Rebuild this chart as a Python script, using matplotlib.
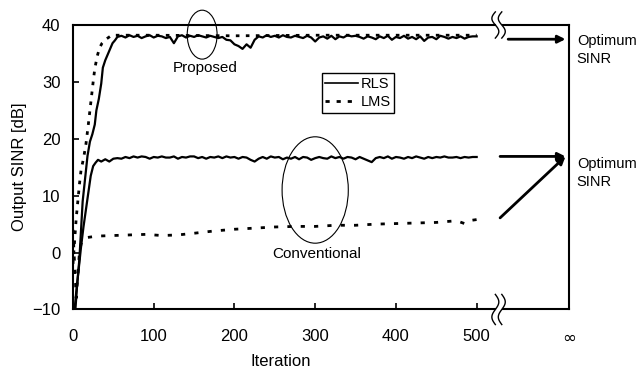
import numpy as np
import matplotlib
matplotlib.use("Agg")
import matplotlib.pyplot as plt
from matplotlib.patches import Ellipse
from matplotlib.lines import Line2D

plt.rcParams["font.family"] = ["Liberation Sans", "DejaVu Sans"]

# ---- data ----
x_tail = np.arange(60, 501, 5)

prop_rls_head_x = [3, 5, 8, 10, 12, 15, 18, 21, 24, 27, 29, 32, 35, 37, 40, 43, 46, 49, 52, 55]
prop_rls_head_y = [-10, -6, -1, 4, 9, 13, 17, 19.5, 20.8, 22.5, 25, 27, 29.7, 32.5, 33.8, 34.8, 35.8, 36.8, 37.3, 37.9]
prop_rls_tail = [38.1, 37.8, 38.2, 37.9, 38.1, 37.7, 38.0, 38.2, 37.8, 38.1,
                 38.0, 37.7, 37.9, 36.8, 38.0, 38.2, 37.8, 38.1, 37.9, 38.2,
                 38.0, 37.8, 38.1, 37.9, 37.7, 37.9, 37.4, 37.3, 36.6, 36.3,
                 35.8, 36.6, 36.0, 37.4, 38.0, 37.8, 38.2, 37.9, 38.1, 37.8,
                 38.2, 37.9, 37.8, 38.1, 37.9, 37.7, 38.1, 37.8, 37.1, 37.8,
                 38.0, 37.6, 38.1, 37.5, 38.0, 37.8, 38.2, 38.0, 38.1, 37.9,
                 37.6, 38.0, 37.8, 37.5, 38.0, 37.7, 38.1, 37.4, 37.9, 37.7,
                 38.1, 37.6, 37.9, 37.5, 38.0, 37.2, 37.8, 37.9, 37.5, 38.1,
                 37.9, 37.6, 37.9, 37.7, 38.0, 37.6, 37.9, 38.0, 38.0]

conv_rls_head_x = [2, 4, 7, 10, 13, 16, 19, 22, 25, 28, 31, 35, 40, 45, 50, 55]
conv_rls_head_y = [-10, -7, -3, 1, 4.5, 7.5, 10.5, 13.5, 15.2, 15.8, 16.3, 16.0, 16.4, 16.0, 16.5, 16.6]
conv_rls_tail = [16.5, 16.8, 16.6, 16.9, 16.7, 16.9, 16.8, 16.5, 16.8, 16.7,
                 16.9, 16.7, 16.7, 16.9, 16.5, 16.8, 16.7, 16.9, 16.9, 16.6,
                 16.8, 16.5, 16.8, 16.7, 16.9, 16.6, 16.9, 16.7, 16.8, 16.5,
                 16.8, 16.7, 16.3, 16.0, 16.5, 16.8, 16.5, 16.9, 16.7, 16.8,
                 16.4, 16.7, 16.5, 16.8, 16.4, 16.8, 16.7, 16.3, 16.6, 16.8,
                 16.6, 16.5, 16.9, 16.6, 16.8, 16.5, 16.8, 16.7, 16.4, 16.8,
                 16.5, 16.2, 15.9, 16.6, 16.8, 16.6, 16.9, 16.5, 16.8, 16.7,
                 16.5, 16.8, 16.6, 16.9, 16.7, 16.5, 16.8, 16.6, 16.8, 16.7,
                 16.9, 16.7, 16.7, 16.8, 16.6, 16.8, 16.7, 16.8, 16.8]

prop_lms_x = [0, 2, 4, 6, 8, 10, 13, 16, 19, 21, 23, 25, 27, 30, 33, 36, 40, 44, 48, 100, 200, 300, 400, 500]
prop_lms_y = [-2, 2, 6, 9, 12, 14.5, 16.5, 19, 22.5, 25, 27.5, 30, 32.3, 34.5, 36.0, 36.8, 37.4, 37.8, 38.2,
              38.2, 38.1, 38.2, 38.2, 38.2]

conv_lms_x = [0, 2, 4, 6, 8, 10, 12, 15, 20, 30, 50, 70, 90, 110, 130, 150, 175, 200, 225, 250,
              275, 300, 325, 350, 375, 400, 425, 450, 475, 485, 490, 500]
conv_lms_y = [4, -2, -8, -4, 0, 1.5, 2.3, 2.6, 2.7, 2.9, 3.0, 3.1, 3.2, 3.0, 3.1, 3.4, 3.8, 4.1, 4.3, 4.5,
              4.6, 4.6, 4.8, 4.8, 5.0, 5.1, 5.2, 5.3, 5.6, 5.1, 5.6, 5.8]

x_ticks = [0, 100, 200, 300, 400, 500]
y_ticks = [-10, 0, 10, 20, 30, 40]
x_inf = 614

prop_rls_x = np.concatenate([prop_rls_head_x, x_tail])
prop_rls_y = np.concatenate([prop_rls_head_y, prop_rls_tail])
conv_rls_x = np.concatenate([conv_rls_head_x, x_tail])
conv_rls_y = np.concatenate([conv_rls_head_y, conv_rls_tail])

# ---- figure ----
fig = plt.figure(figsize=(6.39, 3.74), dpi=100)
ax = fig.add_axes([0.1142, 0.1725, 0.7758, 0.7607])

ax.plot(prop_lms_x, prop_lms_y, color="k", lw=2, linestyle=(0, (1.3, 2.3)))
ax.plot(conv_lms_x, conv_lms_y, color="k", lw=2, linestyle=(0, (1.5, 3.3)))
ax.plot(prop_rls_x, prop_rls_y, color="k", lw=1.6)
ax.plot(conv_rls_x, conv_rls_y, color="k", lw=1.6)

ax.set_xlim(0, x_inf)
ax.set_ylim(-10, 40)
ax.set_xticks(x_ticks + [x_inf])
ax.set_xticklabels([str(v) for v in x_ticks] + ["\u221e"])
inf_lab = ax.get_xticklabels()[-1]
inf_lab.set_fontsize(22)
inf_lab.set_family("DejaVu Sans")
ax.set_yticks(y_ticks)
ax.tick_params(direction="in", length=4, width=1.2, labelsize=12)
ax.tick_params(axis="x", pad=14)
ax.tick_params(axis="y", pad=9)

ax.set_xlabel("Iteration", fontsize=12)
ax.xaxis.set_label_coords(0.419, -0.158)
ax.set_ylabel("Output SINR [dB]", fontsize=12)
ax.yaxis.set_label_coords(-0.092, 0.5)

# spines with break gap
for s in ["top", "bottom"]:
    ax.spines[s].set_visible(False)
for s in ["left", "right"]:
    ax.spines[s].set_linewidth(1.5)
for yy in [0, 1]:
    ax.add_line(Line2D([0, 0.851], [yy, yy], transform=ax.transAxes, color="k", lw=1.5, clip_on=False))
    ax.add_line(Line2D([0.867, 1], [yy, yy], transform=ax.transAxes, color="k", lw=1.5, clip_on=False))

# break marks
t = np.linspace(-1, 1, 40)
for yy, sgn, h in [(1, 1, 0.046), (0, -1, 0.053)]:
    for x0 in [0.852, 0.865]:
        ax.add_line(Line2D(x0 - sgn * 0.007 * np.sin(np.pi * t), yy + h * t,
                           transform=ax.transAxes, color="k", lw=1.0, clip_on=False))

# ellipses and labels
ax.add_patch(Ellipse((160, 38.3), 37, 8.6, fill=False, color="k", lw=0.8, clip_on=False))
ax.text(164, 32.4, "Proposed", ha="center", va="center", fontsize=11)
ax.add_patch(Ellipse((300, 11), 82, 18.7, fill=False, color="k", lw=0.8))
ax.text(302, -0.3, "Conventional", ha="center", va="center", fontsize=11)

# arrows to optimum
arrow = dict(arrowstyle="-|>", lw=2, color="k", mutation_scale=11, shrinkA=0, shrinkB=0)
ax.annotate("", xy=(610, 37.5), xytext=(539, 37.5), arrowprops=arrow, annotation_clip=False)
ax.annotate("", xy=(610, 16.9), xytext=(529, 16.9), arrowprops=arrow, annotation_clip=False)
ax.annotate("", xy=(610, 16.9), xytext=(529, 6.1), arrowprops=arrow, annotation_clip=False)
ax.text(624, 35.6, "Optimum\nSINR", ha="left", va="center", fontsize=10.5, linespacing=1.45, clip_on=False)
ax.text(624, 14.0, "Optimum\nSINR", ha="left", va="center", fontsize=10.5, linespacing=1.3, clip_on=False)

handles = [Line2D([], [], color="k", lw=1.2),
           Line2D([], [], color="k", lw=2, linestyle=(0, (1.5, 2.5)))]
leg = ax.legend(handles, ["RLS", "LMS"], loc="upper left", bbox_to_anchor=(0.502, 0.831),
                fancybox=False, edgecolor="k", framealpha=1, fontsize=10.5,
                handlelength=2.2, handletextpad=0.2, borderpad=0.25, labelspacing=0.3,
                borderaxespad=0)
leg.get_frame().set_linewidth(1.0)

fig.savefig("out.png", dpi=100)
